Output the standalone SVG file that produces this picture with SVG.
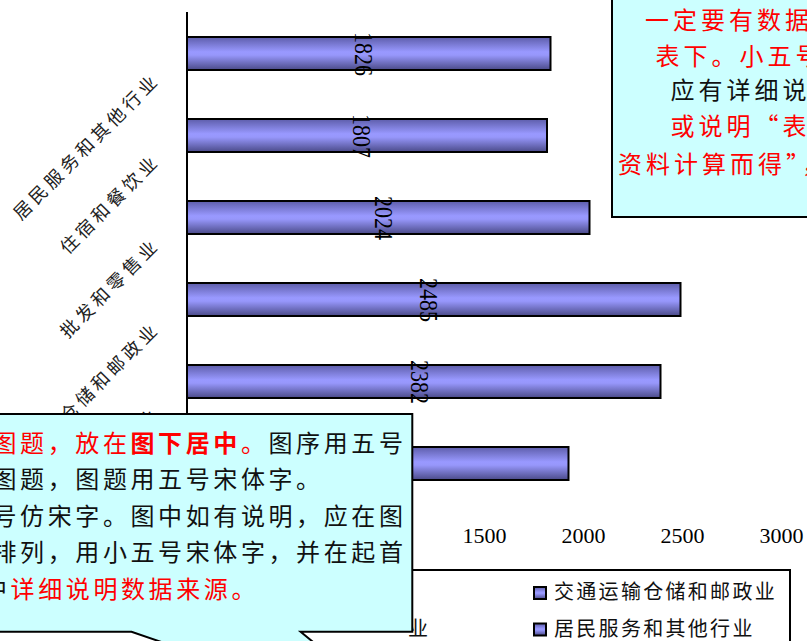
<svg xmlns="http://www.w3.org/2000/svg" width="807" height="641" viewBox="0 0 807 641">
<defs>
<linearGradient id="barGrad" x1="0" y1="0" x2="0" y2="1">
<stop offset="0" stop-color="#5d5daa"/>
<stop offset="0.45" stop-color="#9999ff"/>
<stop offset="0.55" stop-color="#9797fb"/>
<stop offset="1" stop-color="#4a4a88"/>
</linearGradient>
<style>
.bar{fill:url(#barGrad);stroke:#000;stroke-width:2}
.val{font-family:"Liberation Serif","DejaVu Serif",serif;font-size:22px;fill:#000;text-anchor:middle}
.tick{font-family:"Liberation Serif","DejaVu Serif",serif;font-size:22px;fill:#000;text-anchor:middle}
.cat{font-family:"Noto Sans CJK SC",sans-serif;font-size:18px;letter-spacing:4px;fill:#222;text-anchor:end}
.leg{font-family:"Noto Sans CJK SC",sans-serif;font-size:20px;letter-spacing:2.3px;fill:#111}
.mk{fill:url(#barGrad);stroke:#000;stroke-width:2}
.callout{fill:#ccffff;stroke:#000;stroke-width:2}
.ct{font-family:"Noto Sans CJK SC",sans-serif;font-size:24px;letter-spacing:4px}
.cb{font-family:"Noto Sans CJK SC",sans-serif;font-size:24px;letter-spacing:3.6px}
.red{fill:#ff0000}
.blk{fill:#111}
</style>
</defs>
<rect x="0" y="0" width="807" height="641" fill="#fff"/>

<g id="axes">
<line x1="187" y1="12" x2="187" y2="500" stroke="#000" stroke-width="2"/>
<text class="tick" x="484.5" y="543">1500</text>
<text class="tick" x="583.5" y="543">2000</text>
<text class="tick" x="682.5" y="543">2500</text>
<text class="tick" x="781.5" y="543">3000</text>
</g>

<g id="categories">
<text class="cat" transform="translate(161,81) rotate(-45)">居民服务和其他行业</text>
<text class="cat" transform="translate(161,162) rotate(-45)">住宿和餐饮业</text>
<text class="cat" transform="translate(161,246) rotate(-45)">批发和零售业</text>
<text class="cat" transform="translate(161,330) rotate(-45)">交通运输仓储和邮政业</text>
<text class="cat" transform="translate(161,415) rotate(-45)">业</text>
</g>

<g id="bar1"><rect class="bar" x="187" y="37" width="363.5" height="33"/><text class="val" transform="translate(355,54) rotate(90) scale(1,1.15)">1826</text></g>
<g id="bar2"><rect class="bar" x="187" y="119" width="360" height="33"/><text class="val" transform="translate(353,136) rotate(90) scale(1,1.15)">1807</text></g>
<g id="bar3"><rect class="bar" x="187" y="201" width="402.5" height="33"/><text class="val" transform="translate(375,218) rotate(90) scale(1,1.15)">2024</text></g>
<g id="bar4"><rect class="bar" x="187" y="283" width="493.5" height="33"/><text class="val" transform="translate(420,300) rotate(90) scale(1,1.15)">2485</text></g>
<g id="bar5"><rect class="bar" x="187" y="365" width="473.5" height="33"/><text class="val" transform="translate(411,382) rotate(90) scale(1,1.15)">2382</text></g>
<g id="bar6"><rect class="bar" x="187" y="447" width="381.5" height="33"/></g>

<g id="legend">
<rect x="240" y="570" width="550" height="90" fill="#fff" stroke="#000" stroke-width="2"/>
<text class="leg" x="428" y="636" text-anchor="end" style="letter-spacing:0">业</text>
<rect class="mk" x="534" y="587" width="12" height="12"/>
<text class="leg" x="554" y="598.5">交通运输仓储和邮政业</text>
<rect class="mk" x="534" y="623.5" width="12" height="12"/>
<text class="leg" x="554" y="636">居民服务和其他行业</text>
</g>

<g id="note-top">
<rect class="callout" x="612" y="-10" width="220" height="227"/>
<text class="ct red" x="645" y="29">一定要有数据</text>
<text class="ct red" x="655.5" y="65">表下。小五号</text>
<text class="ct blk" x="670.5" y="99">应有详细说</text>
<text class="ct red" x="670.5" y="135">或说明“表</text>
<text class="ct red" x="618" y="173">资料计算而得”，</text>
</g>

<g id="note-bottom">
<path class="callout" d="M -10 414 H 412.3 V 631.7 H 300.6 L 422 732 L 131.5 631.7 H -10 Z"/>
<text class="cb" x="-7.5" y="451.5"><tspan class="red">图题，放在</tspan><tspan class="red" font-weight="bold">图下居中</tspan><tspan class="red">。</tspan><tspan class="blk">图序用五号</tspan></text>
<text class="cb blk" x="-7.5" y="488">图题，图题用五号宋体字。</text>
<text class="cb blk" x="-7.5" y="524.5">号仿宋字。图中如有说明，应在图</text>
<text class="cb blk" x="-7.5" y="561">排列，用小五号宋体字，并在起首</text>
<text class="cb" x="-17" y="597.5"><tspan class="blk">中</tspan><tspan class="red">详细说明数据来源。</tspan></text>
</g>
</svg>
